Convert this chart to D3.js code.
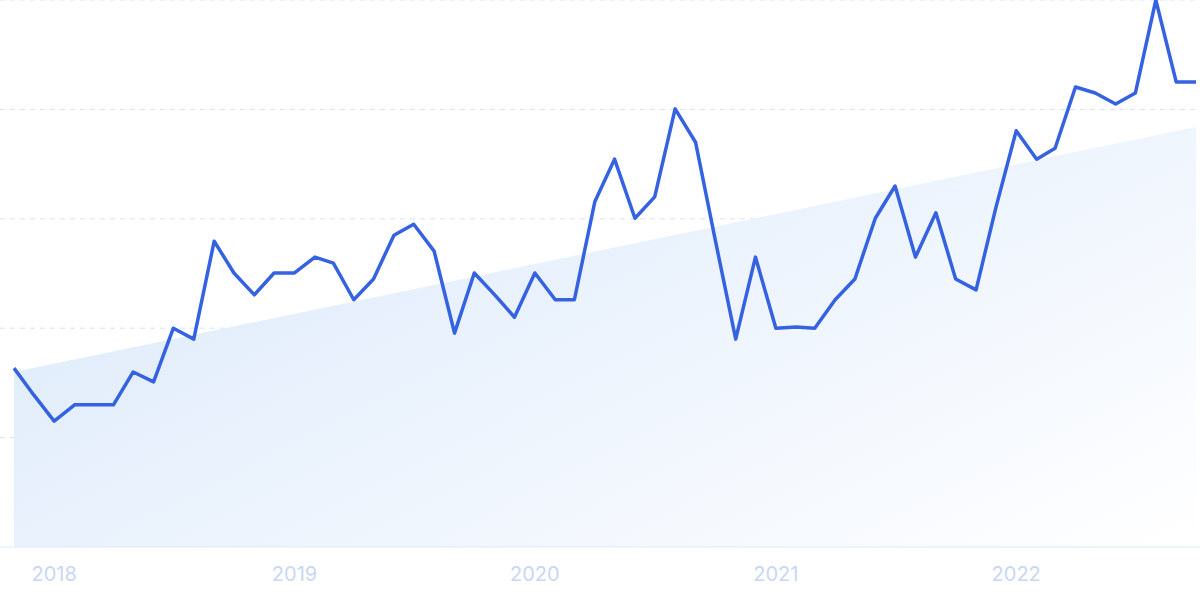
<!DOCTYPE html>
<html><head><meta charset="utf-8">
<script src="https://cdn.jsdelivr.net/npm/d3@7"></script>
<style>body{margin:0;background:#fff}svg{display:block}</style></head>
<body><svg id="c" width="1200" height="599"></svg>
<script>
const startMonth = "2017-11";
const values = [32.7,27.8,23.0,26.0,26.0,26.0,32.0,30.2,40.0,38.0,55.9,50.1,46.1,50.1,50.1,53.0,51.9,45.2,49.0,57.0,59.0,54.1,39.1,50.1,46.1,42.0,50.1,45.2,45.2,63.1,70.9,60.1,64.0,80.1,74.0,56.1,38.0,53.0,40.0,40.2,40.0,45.2,49.0,60.1,66.0,53.0,61.1,49.0,47.0,62.0,76.1,70.9,72.9,84.1,83.0,81.0,83.0,100,85.0,85.0];
const trend = [32, 76.8];
const gridValues = [20,40,60,80,100];
const yearLabels = ["2018","2019","2020","2021","2022"];

const svg = d3.select("#c");
const p0 = d3.timeParse("%Y-%m")(startMonth);
const dates = values.map((v,i)=>d3.timeMonth.offset(p0,i));
const x = d3.scaleTime().domain([dates[0], dates[dates.length-1]]).range([14,1196]);
const y = d3.scaleLinear().domain([0,100]).range([547,0]);

const defs = svg.append("defs");
const g = defs.append("linearGradient").attr("id","gr").attr("x1","0").attr("y1","0.3").attr("x2","1").attr("y2","1");
g.append("stop").attr("offset","0").attr("stop-color","#deebfb");
g.append("stop").attr("offset","1").attr("stop-color","#ffffff");

svg.selectAll(".grid").data(gridValues).enter().append("line")
 .attr("x1",0).attr("x2",1200).attr("y1",d=>y(d)).attr("y2",d=>y(d))
 .attr("stroke","#d6e4f4").attr("stroke-dasharray","5,5").attr("stroke-width",1);

const tr = [{d:dates[0],v:trend[0]},{d:dates[dates.length-1],v:trend[1]}];
svg.append("path").datum(tr).attr("fill","url(#gr)")
 .attr("d", d3.area().x(d=>x(d.d)).y0(y(0)).y1(d=>y(d.v)));

svg.append("line").attr("x1",0).attr("x2",1200).attr("y1",y(0)).attr("y2",y(0)).attr("stroke","#dfe8f5");

svg.append("path").datum(values.map((v,i)=>({d:dates[i],v})))
 .attr("fill","none").attr("stroke","#3462e0").attr("stroke-width",3.5).attr("stroke-linejoin","round")
 .attr("d", d3.line().x(d=>x(d.d)).y(d=>y(d.v)));

svg.selectAll(".yl").data(yearLabels).enter().append("text")
 .attr("x",d=>x(new Date(+d,0,1))).attr("y",581).attr("text-anchor","middle")
 .attr("font-family","Inter, sans-serif").attr("font-size",20).attr("fill","#c9d7f2").text(d=>d);
</script></body></html>
